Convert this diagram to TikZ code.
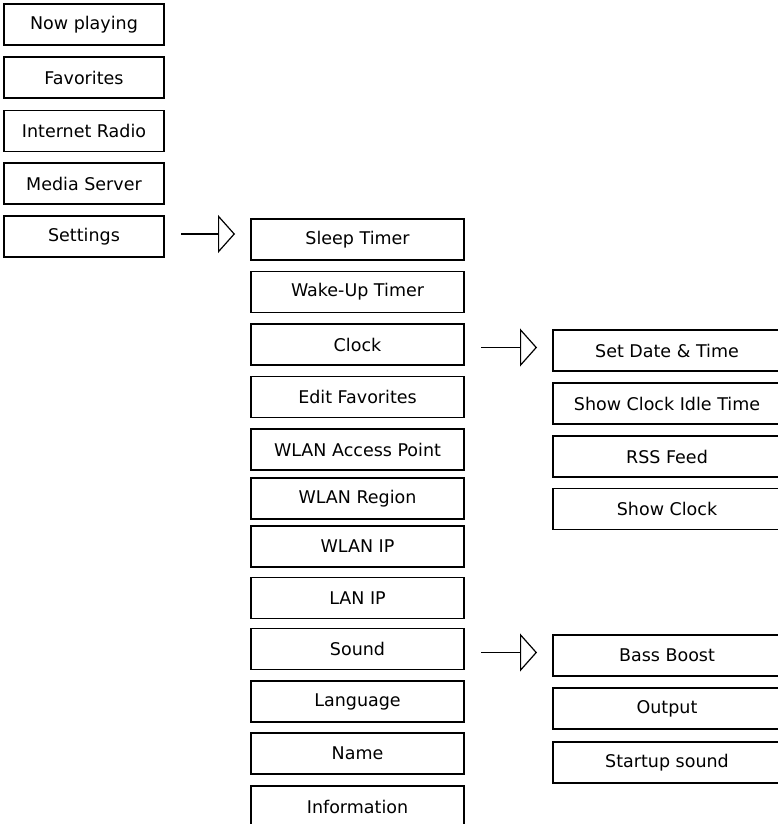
\documentclass[tikz,border=0pt]{standalone}
\usepackage{fontspec}
\setmainfont{DejaVu Sans}
\usetikzlibrary{arrows.meta}
\tikzset{
  box/.style={draw=black, line width=1.2pt, inner sep=0pt, outer sep=0pt,
    minimum height=41pt, font=\fontsize{17.5}{19}\selectfont, text=black},
  lbox/.style={box, minimum width=160pt},
  mbox/.style={box, minimum width=213pt},
  rbox/.style={box, minimum width=228pt},
  arr/.style={draw=black, line width=1.4pt, shorten <=17pt, shorten >=16pt,
    -{Triangle[open, length=17pt, width=38pt, fill=white, line width=1.2pt]}}
}
\begin{document}
\begin{tikzpicture}[x=1pt,y=-1pt]
\useasboundingbox (0,0) rectangle (778,824);
% left column
\node[lbox] (now)  at (84,24.5)  {Now playing};
\node[lbox] (fav)  at (84,77.5)  {Favorites};
\node[lbox] (inet) at (84,131)   {Internet Radio};
\node[lbox] (med)  at (84,183.5) {Media Server};
\node[lbox] (set)  at (84,236.5) {Settings};
% middle column
\node[mbox] (sleep) at (357.5,239.5) {Sleep Timer};
\node[mbox] (wake)  at (357.5,292)   {Wake-Up Timer};
\node[mbox] (clock) at (357.5,344.5) {Clock};
\node[mbox] (edit)  at (357.5,397)   {Edit Favorites};
\node[mbox] (wap)   at (357.5,449.5) {WLAN Access Point};
\node[mbox] (wreg)  at (357.5,498.5) {WLAN Region};
\node[mbox] (wip)   at (357.5,546.5) {WLAN IP};
\node[mbox] (lip)   at (357.5,598)   {LAN IP};
\node[mbox] (sound) at (357.5,649)   {Sound};
\node[mbox] (lang)  at (357.5,701.5) {Language};
\node[mbox] (name)  at (357.5,753.5) {Name};
\node[mbox] (info)  at (357.5,806.5) {Information};
% right column
\node[rbox] (date)  at (667,350.5) {Set Date \& Time};
\node[rbox] (idle)  at (667,403.5) {Show Clock Idle Time};
\node[rbox] (rss)   at (667,456.5) {RSS Feed};
\node[rbox] (shc)   at (667,509)   {Show Clock};
\node[rbox] (bass)  at (667,655.5) {Bass Boost};
\node[rbox] (out)   at (667,708.5) {Output};
\node[rbox] (start) at (667,762.5) {Startup sound};
% arrows
\coordinate (a1) at ([yshift=2.5pt]set.east);
\draw[arr] (a1) -- (a1 -| sleep.west);
\coordinate (a2) at ([yshift=-3pt]clock.east);
\draw[arr] (a2) -- (a2 -| date.west);
\coordinate (a3) at ([yshift=-3.5pt]sound.east);
\draw[arr] (a3) -- (a3 -| bass.west);
\end{tikzpicture}
\end{document}
